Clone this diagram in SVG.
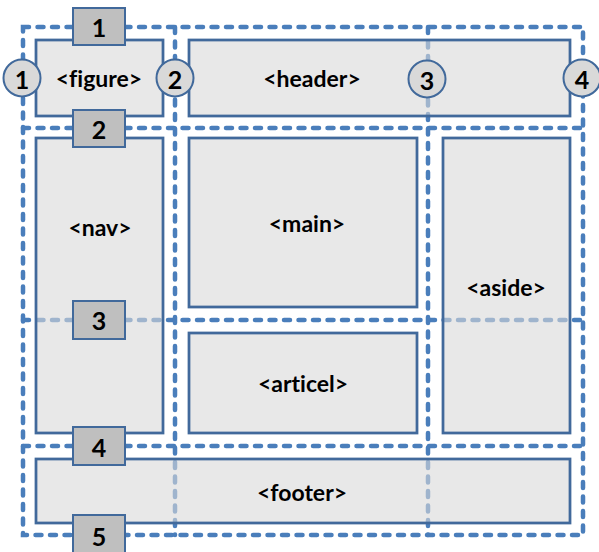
<svg xmlns="http://www.w3.org/2000/svg" width="599" height="552" viewBox="0 0 599 552">
  <style>
    .grid { fill: none; stroke: #4a7ebb; stroke-width: 4.5; stroke-dasharray: 6 8.5; stroke-linecap: round; }
    .area { fill: #d9d9d9; fill-opacity: 0.6; stroke: #41699b; stroke-width: 2.75; }
    .badge { fill: #bfbfbf; stroke: #41699b; stroke-width: 2; }
    .mark { fill: #d9d9d9; stroke: #41699b; stroke-width: 2; }
    .lbl { font-family: Lato, "Liberation Sans", sans-serif; font-weight: bold; font-size: 23px; font-variant-ligatures: none; fill: #000; text-anchor: middle; dominant-baseline: central; }
    .num { font-family: Lato, "Liberation Sans", sans-serif; font-weight: bold; font-size: 25px; fill: #000; text-anchor: middle; dominant-baseline: central; }
  </style>

  <!-- grid lines (drawn first so the translucent areas tint them) -->
  <g id="connectors">
    <rect class="grid" x="23" y="27" width="560" height="508"/>
    <line class="grid" x1="23" y1="128" x2="583" y2="128"/>
    <line class="grid" x1="23" y1="320" x2="583" y2="320"/>
    <line class="grid" x1="23" y1="446" x2="583" y2="446"/>
    <line class="grid" x1="175" y1="27" x2="175" y2="535"/>
    <line class="grid" x1="428" y1="27" x2="428" y2="535"/>
  </g>

  <!-- layout areas -->
  <g id="figure">
    <rect class="area" x="36" y="40" width="127" height="76"/>
    <text class="lbl" x="99" y="78">&lt;figure&gt;</text>
  </g>
  <g id="header">
    <rect class="area" x="189" y="40" width="381" height="76"/>
    <text class="lbl" x="312" y="78">&lt;header&gt;</text>
  </g>
  <g id="nav">
    <rect class="area" x="36" y="138" width="127" height="295"/>
    <text class="lbl" x="100" y="227">&lt;nav&gt;</text>
  </g>
  <g id="main">
    <rect class="area" x="189" y="138" width="228" height="169"/>
    <text class="lbl" x="307" y="223">&lt;main&gt;</text>
  </g>
  <g id="articel">
    <rect class="area" x="189" y="333" width="228" height="100"/>
    <text class="lbl" x="303" y="383">&lt;articel&gt;</text>
  </g>
  <g id="aside">
    <rect class="area" x="443" y="138" width="127" height="295"/>
    <text class="lbl" x="506" y="287">&lt;aside&gt;</text>
  </g>
  <g id="footer">
    <rect class="area" x="36" y="459" width="534" height="64"/>
    <text class="lbl" x="302" y="492">&lt;footer&gt;</text>
  </g>

  <!-- row line numbers -->
  <g id="row-1">
    <rect class="badge" x="73" y="8" width="52" height="37"/>
    <text class="num" x="99" y="27">1</text>
  </g>
  <g id="row-2">
    <rect class="badge" x="73" y="110" width="52" height="37"/>
    <text class="num" x="99" y="129">2</text>
  </g>
  <g id="row-3">
    <rect class="badge" x="73" y="301" width="52" height="38"/>
    <text class="num" x="99" y="320">3</text>
  </g>
  <g id="row-4">
    <rect class="badge" x="73" y="427" width="52" height="38"/>
    <text class="num" x="99" y="447">4</text>
  </g>
  <g id="row-5">
    <rect class="badge" x="73" y="515" width="52" height="38"/>
    <text class="num" x="99" y="536">5</text>
  </g>

  <!-- column line numbers -->
  <g id="col-1">
    <circle class="mark" cx="22" cy="78" r="18.5"/>
    <text class="num" x="22" y="79">1</text>
  </g>
  <g id="col-2">
    <circle class="mark" cx="175" cy="78" r="18.5"/>
    <text class="num" x="175" y="79">2</text>
  </g>
  <g id="col-3">
    <circle class="mark" cx="427" cy="79" r="18.5"/>
    <text class="num" x="427" y="80">3</text>
  </g>
  <g id="col-4">
    <circle class="mark" cx="582" cy="78" r="18.5"/>
    <text class="num" x="582" y="79">4</text>
  </g>
</svg>
